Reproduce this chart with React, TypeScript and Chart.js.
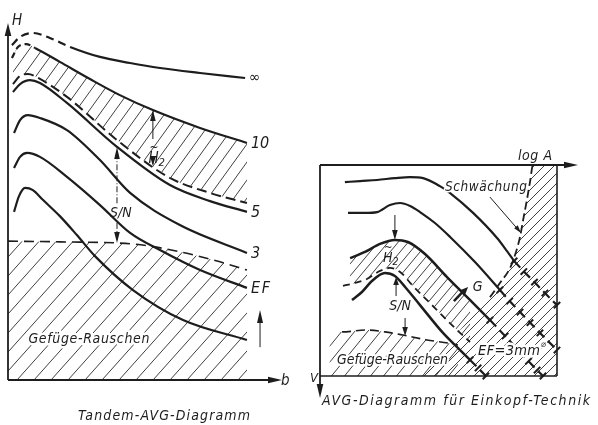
import React, { useEffect, useRef } from "react";
import { Chart, registerables } from "chart.js";

Chart.register(...registerables);

const W = 598;
const H = 425;
const INK = "#1d1d1d";
const HATCH = "#404040";
const FONT_FAMILY = '"DejaVu Sans Condensed", "Liberation Sans Narrow", "DejaVu Sans", sans-serif';

// ---------------- Left: Tandem-AVG-Diagramm (b → H), units 0..10 ----------------
const infX = [0.15, 0.46, 0.95, 1.6, 2.37, 3.51, 4.66, 5.8, 7.33, 9.05];
const infY = [9.38, 9.61, 9.72, 9.58, 9.33, 9.05, 8.88, 8.74, 8.6, 8.46];
const c10X = [0.15, 0.38, 0.69, 1.03, 1.98, 3.13, 4.27, 5.53, 7.33, 9.12];
const c10Y = [9.02, 9.33, 9.41, 9.3, 8.91, 8.43, 7.98, 7.56, 7.06, 6.64];
const bandLoX = [0.19, 0.46, 0.76, 1.15, 2.25, 4.16, 6.18, 7.71, 9.12];
const bandLoY = [8.29, 8.52, 8.57, 8.46, 7.93, 6.72, 5.66, 5.24, 4.96];
const c5X = [0.19, 0.46, 0.84, 1.22, 2.25, 4.16, 6.18, 7.71, 9.12];
const c5Y = [8.07, 8.29, 8.4, 8.32, 7.76, 6.53, 5.46, 5.01, 4.71];
const c3X = [0.23, 0.46, 0.76, 1.22, 2.25, 3.51, 4.66, 6.56, 9.12];
const c3Y = [6.92, 7.28, 7.42, 7.34, 7.0, 6.16, 5.24, 4.34, 3.56];
const cEFX = [0.23, 0.46, 0.73, 1.22, 2.25, 3.51, 4.66, 5.8, 7.33, 9.12];
const cEFY = [5.94, 6.25, 6.36, 6.25, 5.69, 4.9, 4.12, 3.64, 3.08, 2.58];
const cLowX = [0.23, 0.42, 0.65, 0.95, 1.34, 1.98, 2.63, 3.32, 4.77, 6.68, 9.12];
const cLowY = [4.71, 5.15, 5.38, 5.32, 5.04, 4.59, 4.06, 3.47, 2.52, 1.68, 1.12];
const noiseLX = [0, 1.98, 4.77, 6.56, 8.09, 9.12];
const noiseLY = [3.89, 3.87, 3.81, 3.59, 3.31, 3.08];
const leftCurveLabels = ["∞", "10", "5", "3", "EF"];

// ---------------- Right: AVG-Diagramm für Einkopf-Technik (log A → V), units 0..10 ----------------
const rTopX = [1.05, 1.69, 2.41, 3.16, 3.8, 4.35, 5.06, 5.49, 6.46, 7.47, 7.89, 8.19];
const rTopY = [0.81, 0.76, 0.71, 0.62, 0.57, 0.62, 1.0, 1.33, 2.27, 3.46, 4.08, 4.55];
const rTopExtX = [8.19, 8.6, 9.05, 9.49, 10];
const rTopExtY = [4.55, 5.05, 5.55, 6.07, 6.64];
const rSecX = [1.18, 1.9, 2.41, 2.95, 3.38, 3.8, 4.22, 4.85, 5.49, 6.54, 7.59];
const rSecY = [2.27, 2.27, 2.23, 1.9, 1.8, 1.94, 2.23, 2.75, 3.41, 4.6, 5.92];
const rSecExtX = [7.59, 8.0, 8.44, 8.86, 9.28, 10];
const rSecExtY = [5.92, 6.45, 6.97, 7.47, 7.96, 8.77];
const rThirdX = [1.27, 1.9, 2.53, 3.16, 3.71, 4.43, 5.36, 5.99, 6.67, 7.17];
const rThirdY = [4.41, 4.12, 3.74, 3.55, 3.65, 4.22, 5.31, 6.02, 6.78, 7.35];
const rThirdExtX = [7.17, 7.81, 8.44, 8.8, 9.16, 9.41];
const rThirdExtY = [7.35, 8.1, 8.86, 9.3, 9.72, 10];
const rFourthX = [1.35, 1.77, 2.19, 2.74, 3.16, 3.59, 4.22, 5.19, 5.91, 6.33];
const rFourthY = [6.4, 6.02, 5.5, 5.12, 5.26, 5.78, 6.64, 7.96, 8.77, 9.24];
const rFourthExtX = [6.33, 6.67, 7.0];
const rFourthExtY = [9.24, 9.62, 10];
const rBandLoX = [0.97, 1.48, 1.98, 2.53, 2.95, 3.38, 3.92, 4.85, 5.78, 6.33];
const rBandLoY = [5.73, 5.59, 5.4, 5.02, 4.88, 5.07, 5.73, 6.78, 7.82, 8.39];
const rNoiseX = [0.4, 0.93, 1.98, 2.74, 3.5, 4.51, 5.4, 5.82];
const rNoiseY = [7.87, 7.91, 7.82, 7.91, 8.06, 8.29, 8.44, 8.53];
const rSchwX = [4.3, 4.85, 5.4, 5.91, 6.54, 7.17, 7.59, 8.02, 8.27, 8.44, 8.57, 8.73, 8.86, 8.99, 10];
const rSchwY = [10, 9.24, 8.53, 7.82, 7.01, 6.26, 5.59, 4.88, 4.12, 3.41, 2.61, 1.66, 0.81, 0, 0];

type Pt = { x: number; y: number };
const zip = (xs: number[], ys: number[]): Pt[] => xs.map((x, i) => ({ x, y: ys[i] }));

function makeHatch(ctx: CanvasRenderingContext2D, w: number, h: number, lw: number) {
  const c = document.createElement("canvas");
  c.width = w;
  c.height = h;
  const g = c.getContext("2d")!;
  g.strokeStyle = HATCH;
  g.lineWidth = lw;
  g.beginPath();
  for (const o of [-1, 0, 1]) {
    g.moveTo(o * w, h);
    g.lineTo(o * w + w, 0);
  }
  g.stroke();
  return ctx.createPattern(c, "repeat")!;
}

function arrowHead(ctx: CanvasRenderingContext2D, tx: number, ty: number, dx: number, dy: number, len = 11, half = 3) {
  const l = Math.hypot(dx, dy);
  const ux = dx / l;
  const uy = dy / l;
  ctx.beginPath();
  ctx.moveTo(tx, ty);
  ctx.lineTo(tx - ux * len - uy * half, ty - uy * len + ux * half);
  ctx.lineTo(tx - ux * len + uy * half, ty - uy * len - ux * half);
  ctx.closePath();
  ctx.fill();
}

function seg(ctx: CanvasRenderingContext2D, x1: number, y1: number, x2: number, y2: number, lw = 1) {
  ctx.lineWidth = lw;
  ctx.beginPath();
  ctx.moveTo(x1, y1);
  ctx.lineTo(x2, y2);
  ctx.stroke();
}

type TextOpts = { align?: "left" | "center" | "right"; baseline?: CanvasTextBaseline; width?: number; halo?: number };
function drawText(ctx: CanvasRenderingContext2D, s: string, x: number, y: number, size: number, o: TextOpts = {}) {
  ctx.save();
  ctx.font = `italic ${size}px ${FONT_FAMILY}`;
  ctx.textBaseline = o.baseline ?? "alphabetic";
  ctx.textAlign = "left";
  (ctx as any).letterSpacing = "0px";
  const natural = ctx.measureText(s).width;
  const n = Array.from(s).length;
  let sp = 0;
  if (o.width && n > 1) sp = (o.width - natural) / (n - 1);
  (ctx as any).letterSpacing = `${sp}px`;
  const total = natural + sp * (n - 1);
  let left = x;
  if (o.align === "center") left = x - total / 2;
  else if (o.align === "right") left = x - total;
  if (o.halo) {
    ctx.strokeStyle = "#fff";
    ctx.lineWidth = o.halo;
    ctx.lineJoin = "round";
    ctx.strokeText(s, left, y);
  }
  ctx.fillStyle = INK;
  ctx.fillText(s, left, y);
  ctx.restore();
  return total;
}

function drawH2(ctx: CanvasRenderingContext2D, x: number, y: number, size: number) {
  const w = drawText(ctx, "H", x, y, size);
  drawText(ctx, "~", x + 1, y - size * 0.78, size * 0.8);
  drawText(ctx, "2", x + w, y + size * 0.22, size * 0.75);
}

const baseLine = (data: Pt[], extra: Record<string, unknown> = {}) => ({
  data,
  showLine: true,
  borderColor: INK,
  borderWidth: 2.2,
  pointRadius: 0,
  fill: false,
  cubicInterpolationMode: "monotone",
  clip: false,
  ...extra,
});

const tickedLine = (data: Pt[]) =>
  baseLine(data, {
    borderDash: [9, 5],
    borderWidth: 2.2,
    pointRadius: 4.5,
    pointStyle: "line",
    pointRotation: -45,
    pointBorderWidth: 2,
    pointBorderColor: INK,
    cubicInterpolationMode: "default",
    tension: 0,
  });

const leftDeco = {
  id: "leftDeco",
  afterDraw(chart: any) {
    const { ctx, chartArea: a } = chart;
    const px = (v: number) => chart.scales.x.getPixelForValue(v);
    const py = (v: number) => chart.scales.y.getPixelForValue(v);
    ctx.save();
    ctx.strokeStyle = INK;
    ctx.fillStyle = INK;
    seg(ctx, a.left, a.bottom, a.left, a.top + 8, 1.8);
    arrowHead(ctx, a.left, a.top, 0, -1, 13, 3.3);
    seg(ctx, a.left, a.bottom, a.right + 4, a.bottom, 1.8);
    arrowHead(ctx, a.right + 12, a.bottom, 1, 0, 14, 3.3);
    drawText(ctx, "H", a.left + 4, a.top + 2, 15);
    drawText(ctx, "b", a.right + 11, a.bottom + 5, 15);

    const ends: [number[], number[]][] = [
      [infX, infY],
      [c10X, c10Y],
      [c5X, c5Y],
      [c3X, c3Y],
      [cEFX, cEFY],
    ];
    ends.forEach(([xs, ys], i) => {
      const s = leftCurveLabels[i];
      drawText(ctx, s, px(xs[xs.length - 1]) + 4, py(ys[ys.length - 1]) + (i === 0 ? 0 : 1), s === "∞" ? 15 : 16, {
        baseline: "middle",
        width: s === "EF" ? 19 : undefined,
      });
    });

    seg(ctx, px(5.53), py(6.75), px(5.53), py(7.5), 1);
    arrowHead(ctx, px(5.53), py(7.56), 0, -1, 11, 2.8);
    seg(ctx, px(5.53), py(6.2), px(5.53), py(6.05), 1);
    arrowHead(ctx, px(5.53), py(6.0), 0, 1, 9, 2.8);
    drawH2(ctx, px(5.36), py(6.08), 15);

    ctx.setLineDash([6, 2, 1, 2]);
    seg(ctx, px(4.16), py(4.95), px(4.16), py(6.4), 1);
    seg(ctx, px(4.16), py(4.4), px(4.16), py(3.9), 1);
    ctx.setLineDash([]);
    arrowHead(ctx, px(4.16), py(6.53), 0, -1, 12, 2.8);
    arrowHead(ctx, px(4.16), py(3.84), 0, 1, 11, 2.8);
    drawText(ctx, "S/N", px(4.31), py(4.68), 14, { align: "center", baseline: "middle" });

    seg(ctx, px(9.62), py(0.92), px(9.62), py(1.8), 1);
    arrowHead(ctx, px(9.62), py(1.96), 0, -1, 13, 3);

    drawText(ctx, "Gefüge-Rauschen", px(0.78), py(1.05), 14, { width: 121, halo: 5 });
    drawText(ctx, "Tandem-AVG-Diagramm", a.left + 156, a.bottom + 40, 14, { align: "center", width: 172 });
    ctx.restore();
  },
};

const rightDeco = {
  id: "rightDeco",
  afterDraw(chart: any) {
    const { ctx, chartArea: a } = chart;
    const px = (v: number) => chart.scales.x.getPixelForValue(v);
    const py = (v: number) => chart.scales.y.getPixelForValue(v);
    ctx.save();
    ctx.strokeStyle = INK;
    ctx.fillStyle = INK;
    seg(ctx, a.left, a.top, a.right + 8, a.top, 1.8);
    arrowHead(ctx, a.right + 21, a.top, 1, 0, 14, 3.3);
    seg(ctx, a.left, a.top, a.left, a.bottom + 8, 1.8);
    arrowHead(ctx, a.left, a.bottom + 22, 0, 1, 14, 3.3);
    seg(ctx, a.right, a.top, a.right, a.bottom, 1.6);
    seg(ctx, a.left, a.bottom, a.right, a.bottom, 1.6);
    drawText(ctx, "log A", a.right - 39, a.top - 5, 14, { width: 34 });
    drawText(ctx, "V", a.left - 2, a.bottom + 6, 13, { align: "right" });

    drawText(ctx, "Schwächung", px(5.27), py(1.22), 13.5, { width: 82, halo: 3 });
    seg(ctx, px(7.17), py(1.52), px(8.35), py(3.05), 1);
    arrowHead(ctx, px(8.48), py(3.22), 1, 1.25, 8, 2.3);

    seg(ctx, px(3.16), py(2.37), px(3.16), py(3.1), 1);
    arrowHead(ctx, px(3.16), py(3.55), 0, 1, 10, 2.8);
    drawH2(ctx, px(2.66), py(4.6), 14);

    seg(ctx, px(3.21), py(6.21), px(3.21), py(5.6), 1);
    arrowHead(ctx, px(3.21), py(5.31), 0, -1, 8, 2.8);
    seg(ctx, px(3.59), py(7.25), px(3.59), py(7.7), 1);
    arrowHead(ctx, px(3.59), py(8.1), 0, 1, 9, 2.8);
    drawText(ctx, "S/N", px(3.38), py(6.68), 14, { align: "center", baseline: "middle", halo: 3 });

    seg(ctx, px(5.65), py(6.45), px(6.05), py(5.98), 2.5);
    arrowHead(ctx, px(6.25), py(5.78), 1, -1, 8, 3.5);
    drawText(ctx, "G", px(6.45), py(5.78), 14, { baseline: "middle", halo: 3 });

    const wEF = drawText(ctx, "EF=3mm", px(6.67), py(9.0), 14.5, { width: 62, halo: 5 });
    drawText(ctx, "⌀", px(6.67) + wEF + 1, py(8.62), 9, { halo: 3 });

    drawText(ctx, "Gefüge-Rauschen", px(0.72), py(9.43), 14, { width: 111, halo: 4 });
    drawText(ctx, "AVG-Diagramm für Einkopf-Technik", a.left + 2, a.bottom + 29, 14, { width: 268 });
    ctx.restore();
  },
};

export default function App() {
  const leftRef = useRef<HTMLCanvasElement>(null);
  const rightRef = useRef<HTMLCanvasElement>(null);

  useEffect(() => {
    Chart.defaults.font.family = FONT_FAMILY;
    const lc = leftRef.current!;
    const rc = rightRef.current!;
    const lctx = lc.getContext("2d")!;
    const rctx = rc.getContext("2d")!;

    const hatchBand = makeHatch(lctx, 13, 18, 1);
    const hatchNoiseL = makeHatch(lctx, 17, 19, 1);
    const hatchBandR = makeHatch(rctx, 10, 12, 1);
    const hatchNoiseR = makeHatch(rctx, 13, 16, 1);
    const hatchSchw = makeHatch(rctx, 10, 10, 1);

    const commonOpts = (pad: any, reverse: boolean) => ({
      responsive: false,
      maintainAspectRatio: false,
      animation: false as const,
      layout: { padding: pad },
      plugins: { legend: { display: false }, tooltip: { enabled: false }, title: { display: false } },
      scales: {
        x: { type: "linear" as const, min: 0, max: 10, display: false },
        y: { type: "linear" as const, min: 0, max: 10, display: false, reverse },
      },
    });

    const left = new Chart(lc, {
      type: "scatter",
      data: {
        datasets: [
          baseLine(zip(infX, infY), {
            segment: { borderDash: (c: any) => (c.p0.parsed.x < 2.3 ? [8, 5] : undefined) },
          }),
          baseLine(zip(c10X, c10Y), {
            fill: 2,
            backgroundColor: hatchBand,
            segment: { borderDash: (c: any) => (c.p0.parsed.x < 1.0 ? [6, 4] : undefined) },
          }),
          baseLine(zip(bandLoX, bandLoY), { borderDash: [10, 5], borderWidth: 2 }),
          baseLine(zip(c5X, c5Y)),
          baseLine(zip(c3X, c3Y)),
          baseLine(zip(cEFX, cEFY)),
          baseLine(zip(cLowX, cLowY)),
          baseLine(zip(noiseLX, noiseLY), {
            borderDash: [10, 6],
            borderWidth: 1.6,
            fill: { value: 0 },
            backgroundColor: hatchNoiseL,
          }),
        ] as any,
      },
      options: commonOpts({ left: 8, top: 23, right: W - 270, bottom: H - 380 }, false) as any,
      plugins: [leftDeco],
    });

    const right = new Chart(rc, {
      type: "scatter",
      data: {
        datasets: [
          baseLine(zip(rTopX, rTopY)),
          tickedLine(zip(rTopExtX, rTopExtY)),
          baseLine(zip(rSecX, rSecY)),
          tickedLine(zip(rSecExtX, rSecExtY)),
          baseLine(zip(rThirdX, rThirdY), { fill: 8, backgroundColor: hatchBandR, borderWidth: 2.5 }),
          tickedLine(zip(rThirdExtX, rThirdExtY)),
          baseLine(zip(rFourthX, rFourthY), { borderWidth: 2.5 }),
          tickedLine(zip(rFourthExtX, rFourthExtY)),
          baseLine(zip(rBandLoX, rBandLoY), { borderDash: [7, 5], borderWidth: 1.8 }),
          baseLine(zip(rNoiseX, rNoiseY), {
            borderDash: [9, 5],
            borderWidth: 1.6,
            fill: { value: 10 },
            backgroundColor: hatchNoiseR,
            segment: { borderColor: (c: any) => (c.p0.parsed.x < 0.9 ? "rgba(0,0,0,0)" : undefined) },
          }),
          baseLine(zip(rSchwX, rSchwY), {
            borderDash: [8, 4],
            borderWidth: 1.8,
            fill: { value: 10 },
            backgroundColor: hatchSchw,
            segment: {
              borderColor: (c: any) =>
                c.p0.parsed.x >= 6.9 && c.p1.parsed.x < 9.5 ? undefined : "rgba(0,0,0,0)",
            },
          }),
        ] as any,
      },
      options: commonOpts({ left: 320, top: 165, right: W - 557, bottom: H - 376 }, true) as any,
      plugins: [rightDeco],
    });

    return () => {
      left.destroy();
      right.destroy();
    };
  }, []);

  const cs: React.CSSProperties = { position: "absolute", left: 0, top: 0, width: W, height: H };
  return (
    <div style={{ position: "fixed", left: 0, top: 0, width: W, height: H, background: "#fff" }}>
      <canvas ref={leftRef} width={W} height={H} style={cs} />
      <canvas ref={rightRef} width={W} height={H} style={cs} />
    </div>
  );
}
